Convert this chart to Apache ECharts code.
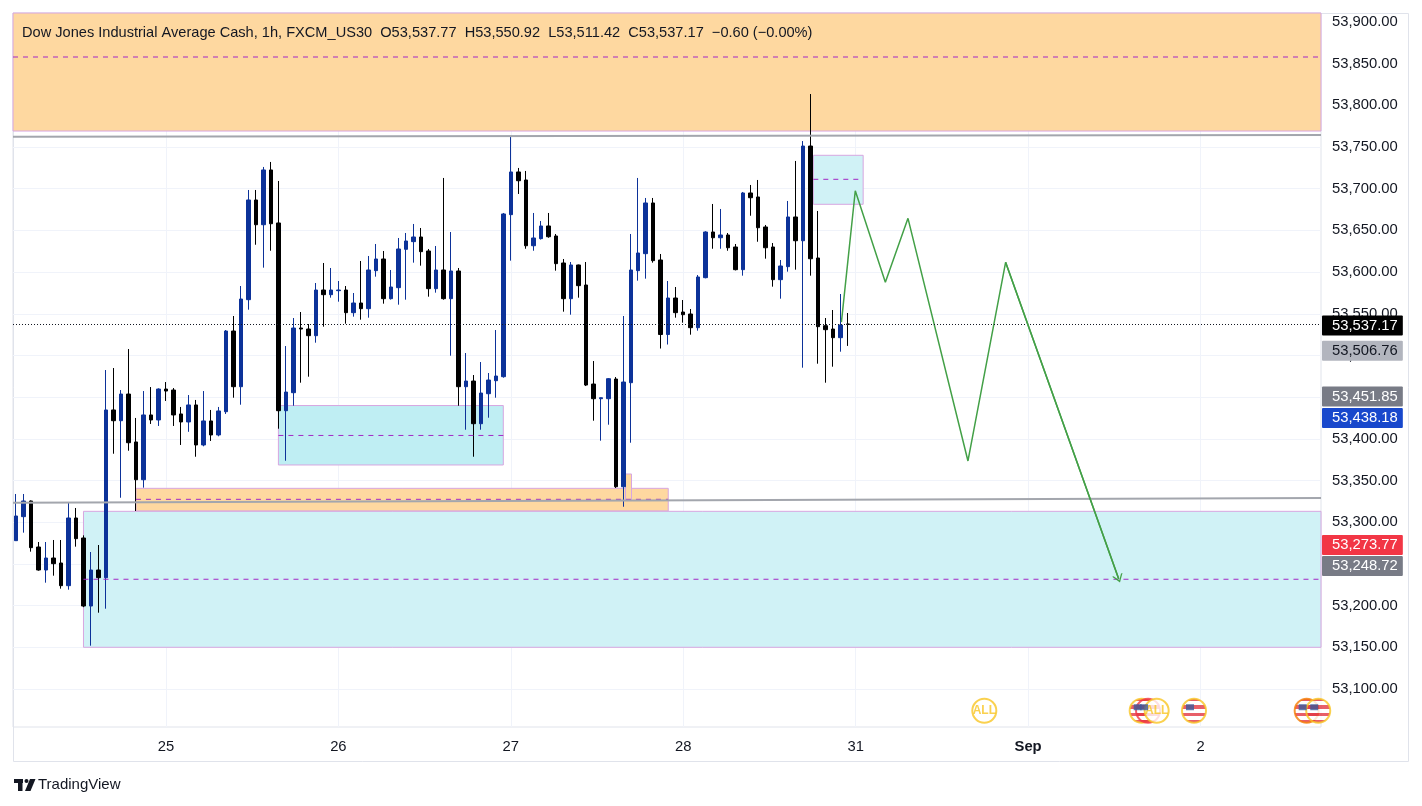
<!DOCTYPE html>
<html>
<head>
<meta charset="UTF-8">
<title>US30 1h</title>
<style>
  html, body { margin: 0; padding: 0; background: #ffffff; }
  #chart { width: 1422px; height: 806px; }
</style>
</head>
<body>
<div id="chart"></div>
<script src="https://cdn.jsdelivr.net/npm/echarts@6.0.0/dist/echarts.min.js"></script>
<script>
// one x slot per hourly bar (index), empty slots on the right are future time
var xMin = -0.4;
var xMax = 174.07;
var dayTickIdx = [20, 43, 66, 89, 112, 135, 158];
var dayLabels = ['25', '26', '27', '28', '31', 'Sep', '2'];
var priceTicks = [53100, 53150, 53200, 53250, 53300, 53350, 53400, 53450, 53500,
  53550, 53600, 53650, 53700, 53750, 53800, 53850, 53900];

// [open, close, low, high] per bar
var candles = [
  [53277.8, 53307.4, 53277.8, 53333.8], [53306.6, 53325.4, 53287.4, 53333.8],
  [53325.4, 53269.4, 53264.6, 53326.0], [53270.2, 53242.6, 53241.8, 53276.2],
  [53242.6, 53257.0, 53227.4, 53276.2], [53257.0, 53250.2, 53235.8, 53278.6],
  [53251.0, 53223.8, 53220.2, 53278.6], [53223.8, 53305.0, 53219.0, 53324.2],
  [53305.0, 53280.2, 53270.6, 53317.0], [53281.0, 53199.4, 53198.0, 53284.2],
  [53199.4, 53242.6, 53151.8, 53264.2], [53242.6, 53233.4, 53191.4, 53272.6],
  [53233.4, 53434.6, 53196.2, 53482.5], [53434.6, 53421.7, 53382.1, 53484.9],
  [53421.7, 53453.7, 53329.3, 53458.5], [53453.7, 53395.3, 53385.7, 53507.7],
  [53396.2, 53350.9, 53313.4, 53425.0], [53350.9, 53428.6, 53341.4, 53457.3],
  [53428.6, 53422.6, 53417.8, 53462.1], [53422.6, 53459.7, 53415.4, 53460.5],
  [53459.7, 53457.3, 53445.4, 53468.1], [53458.5, 53428.6, 53415.4, 53460.9],
  [53429.8, 53420.2, 53392.6, 53438.2], [53420.2, 53440.6, 53408.4, 53452.5],
  [53440.6, 53392.6, 53378.5, 53446.6], [53392.6, 53421.4, 53391.0, 53457.3],
  [53421.4, 53404.6, 53397.4, 53434.6], [53404.6, 53433.4, 53403.0, 53438.2],
  [53432.5, 53529.3, 53429.8, 53530.5], [53529.3, 53462.5, 53449.3, 53547.3],
  [53462.5, 53567.7, 53440.9, 53583.3], [53566.9, 53686.5, 53554.9, 53698.5],
  [53686.5, 53656.8, 53632.8, 53698.5], [53656.8, 53722.5, 53605.3, 53726.1],
  [53722.5, 53658.0, 53625.6, 53732.1], [53658.9, 53433.7, 53412.1, 53709.3],
  [53433.7, 53456.1, 53373.7, 53511.3], [53455.3, 53532.9, 53439.7, 53544.9],
  [53532.9, 53531.7, 53467.3, 53552.1], [53531.7, 53523.7, 53474.5, 53537.7],
  [53523.7, 53578.5, 53515.3, 53586.9], [53578.5, 53572.9, 53534.5, 53610.9],
  [53572.9, 53578.5, 53569.3, 53604.9], [53577.7, 53578.5, 53564.5, 53589.3],
  [53578.5, 53551.3, 53538.1, 53583.3], [53551.3, 53562.9, 53546.5, 53574.9],
  [53562.9, 53556.1, 53542.9, 53613.3], [53556.1, 53602.5, 53545.3, 53619.3],
  [53601.7, 53615.7, 53594.5, 53633.7], [53615.7, 53568.1, 53562.1, 53625.3],
  [53568.1, 53582.1, 53567.0, 53602.5], [53581.3, 53627.7, 53560.9, 53640.9],
  [53627.3, 53637.3, 53566.9, 53646.9], [53636.5, 53642.1, 53611.3, 53657.7],
  [53642.1, 53624.5, 53607.7, 53652.9], [53625.3, 53580.1, 53570.5, 53627.7],
  [53580.1, 53602.5, 53575.3, 53631.3], [53602.5, 53568.1, 53566.9, 53712.9],
  [53568.1, 53601.3, 53499.7, 53648.1], [53601.3, 53462.5, 53439.7, 53604.9],
  [53462.5, 53469.3, 53410.9, 53502.9], [53469.3, 53418.1, 53378.5, 53476.5],
  [53418.1, 53454.9, 53410.9, 53492.1], [53454.1, 53470.5, 53425.3, 53478.9],
  [53469.7, 53475.3, 53449.3, 53530.5], [53474.5, 53669.7, 53473.3, 53670.9],
  [53668.9, 53720.1, 53613.7, 53762.0], [53720.1, 53709.6, 53693.7, 53724.9],
  [53710.5, 53631.6, 53628.0, 53721.3], [53631.6, 53640.9, 53625.6, 53670.9],
  [53640.1, 53655.3, 53639.0, 53661.3], [53655.3, 53642.4, 53641.2, 53670.9],
  [53643.3, 53610.1, 53601.7, 53645.7], [53610.9, 53568.1, 53552.5, 53615.7],
  [53568.1, 53608.5, 53548.9, 53612.1], [53608.5, 53583.7, 53569.3, 53609.0],
  [53584.5, 53464.5, 53463.3, 53612.1], [53465.7, 53448.1, 53421.7, 53493.3],
  [53448.1, 53449.3, 53397.7, 53449.5], [53448.1, 53472.1, 53416.9, 53472.9],
  [53471.7, 53342.5, 53341.0, 53474.1], [53342.5, 53468.1, 53318.5, 53547.3],
  [53467.3, 53602.5, 53395.3, 53645.7], [53601.7, 53622.9, 53589.7, 53712.9],
  [53622.1, 53682.9, 53592.1, 53688.9], [53682.9, 53613.7, 53611.3, 53688.9],
  [53614.5, 53525.1, 53508.3, 53621.7], [53525.1, 53568.9, 53513.1, 53589.3],
  [53568.9, 53551.3, 53545.3, 53582.1], [53552.1, 53548.9, 53539.3, 53566.5],
  [53549.7, 53533.3, 53524.9, 53555.7], [53533.3, 53594.1, 53529.7, 53596.5],
  [53593.3, 53648.1, 53592.5, 53649.0], [53648.1, 53641.2, 53628.0, 53681.7],
  [53641.2, 53644.5, 53628.0, 53675.7], [53644.5, 53629.2, 53625.6, 53646.9],
  [53630.1, 53602.9, 53602.0, 53633.7], [53602.9, 53694.9, 53595.7, 53696.1],
  [53694.9, 53689.2, 53667.6, 53704.5], [53690.1, 53653.2, 53636.4, 53710.5],
  [53654.1, 53629.2, 53616.1, 53656.5], [53630.1, 53590.9, 53582.5, 53634.9],
  [53590.9, 53607.3, 53568.1, 53614.5], [53606.5, 53666.1, 53600.5, 53685.3],
  [53666.1, 53637.6, 53602.9, 53733.3], [53637.6, 53751.2, 53485.3, 53757.2],
  [53751.2, 53616.0, 53595.7, 53813.6], [53616.9, 53534.5, 53490.1, 53673.3],
  [53535.7, 53530.9, 53467.3, 53544.9], [53531.7, 53521.3, 53486.5, 53554.5],
  [53521.3, 53536.5, 53504.5, 53573.7], [53537.77, 53537.17, 53511.42, 53550.92]
];

// drawn zones: [fromIdx, toIdx, lowPrice, highPrice]
var orangeZones = [
  [xMin, xMax, 53769.2, 53946.8],
  [16, 87, 53313.4, 53340.6],
  [81.3, 82.1, 53326.6, 53357.8]
];
var cyanZones = [
  [9, xMax, 53149.9, 53313.0],
  [35, 65, 53368.6, 53439.9],
  [106.35, 113, 53681.3, 53740.1]
];
// zone middle lines: [fromIdx, toIdx, price]
var midLines = [
  [xMin, xMax, 53858.0],
  [16, 87, 53327.4],
  [9, xMax, 53231.5],
  [35, 65, 53404.0],
  [106.35, 113, 53711.3]
];
// trend lines: [idx1, price1, idx2, price2]
var trendLines = [
  [xMin, 53762.4, xMax, 53764.4],
  [xMin, 53323.3, xMax, 53329.0]
];
// projected path
var pathPts = [
  [110.1, 53540.0], [111.95, 53697.6], [115.96, 53587.7], [118.98, 53664.5],
  [126.98, 53373.4], [132.0, 53611.7], [147.08, 53232.2]
];
var lastPrice = 53537.17;
var badgePrices = [53506.76, 53451.85, 53438.18, 53273.77, 53248.72];
// calendar events: [idx, kind, importance]
var events = [
  [129.16, 'ALL', 1], [150.15, 'US', 1], [151.0, 'US', 3], [152.15, 'ALL', 1],
  [157.13, 'US', 1], [172.16, 'US', 2], [173.7, 'US', 1]
];
var eventPrice = 53073.8;

var FONT = '"Liberation Sans", Arial, sans-serif';
var TXT = '#131722';
var AXIS_FS = 14.8;

function fmt(v) {
  var p = v.toFixed(2).split('.');
  return p[0].replace(/\B(?=(\d{3})+(?!\d))/g, ',') + '.' + p[1];
}

var candleData = candles.map(function (c, i) {
  return [i, c[0], c[1], c[2], c[3]];
});

var areas = [];
orangeZones.forEach(function (z) {
  areas.push([{ coord: [z[0], z[3]], itemStyle: { color: '#fed8a0', borderColor: '#d7a6e0', borderWidth: 1 } },
    { coord: [z[1], z[2]] }]);
});
cyanZones.forEach(function (z, i) {
  areas.push([{ coord: [z[0], z[3]], itemStyle: { color: i === 1 ? '#bfeef3' : '#d0f2f6', borderColor: '#d7a6e0', borderWidth: 1 } },
    { coord: [z[1], z[2]] }]);
});

// straight drawing segments as plain line series
function segSeries(pts, color, width, dash, z) {
  return {
    type: 'line', data: pts, showSymbol: false, silent: true, z: z,
    color: color, lineStyle: { color: color, width: width, type: dash }
  };
}
var drawSeries = [];
midLines.forEach(function (m) {
  drawSeries.push(segSeries([[m[0], m[2]], [m[1], m[2]]], '#a229c4', 1, [5, 5], 3));
});
trendLines.forEach(function (t) {
  drawSeries.push(segSeries([[t[0], t[1]], [t[2], t[3]]], '#a3a6ad', 2, 'solid', 3));
});

var badgeLook = [
  { bg: '#b2b5be', fg: TXT, dy: 1 },
  { bg: '#787b86', fg: '#ffffff', dy: 1 },
  { bg: '#1848cc', fg: '#ffffff', dy: 11 },
  { bg: '#f23645', fg: '#ffffff', dy: 1 },
  { bg: '#787b86', fg: '#ffffff', dy: 1 }
];
function badgeLabel(bg, fg, dy) {
  return {
    show: true, position: 'end', distance: 1, formatter: function (p) { return fmt(p.value); },
    backgroundColor: bg, color: fg, fontFamily: FONT, fontSize: AXIS_FS, lineHeight: 15,
    padding: [3, 5, 2, 10], borderRadius: 1, offset: [0, dy]
  };
}
var lines = [];
lines.push({ yAxis: lastPrice, lineStyle: { color: '#131722', width: 1, type: [1, 2] },
  label: badgeLabel('#000000', '#ffffff', 1) });
badgePrices.forEach(function (v, i) {
  var b = badgeLook[i];
  lines.push({ yAxis: v, lineStyle: { color: 'rgba(0,0,0,0)', width: 0 }, label: badgeLabel(b.bg, b.fg, b.dy) });
});

var stripeStops = [];
for (var s = 0; s < 7; s++) {
  var col = s % 2 === 0 ? '#e23743' : '#ffffff';
  stripeStops.push({ offset: s / 7, color: col }, { offset: (s + 1) / 7, color: col });
}
var ringColors = { 1: '#f9c623', 2: '#f57c00', 3: '#f23645' };
var eventData = events.map(function (e) {
  var isAll = e[1] === 'ALL';
  return {
    value: [e[0], eventPrice],
    itemStyle: {
      color: isAll ? '#ffffff' : new echarts.graphic.LinearGradient(0, 0, 0, 1, stripeStops),
      borderColor: ringColors[e[2]], borderWidth: 2
    },
    label: { show: isAll, formatter: 'ALL', color: '#f9c623', fontWeight: 'bold', fontSize: 12, fontFamily: FONT }
  };
});
var cantonData = events.filter(function (e) { return e[1] !== 'ALL'; }).map(function (e) {
  return [e[0], eventPrice];
});

var titleText = 'Dow Jones Industrial Average Cash, 1h, FXCM_US30  O53,537.77  H53,550.92  L53,511.42  C53,537.17  \u22120.60 (\u22120.00%)';

var chart = echarts.init(document.getElementById('chart'));
chart.setOption({
  animation: false,
  backgroundColor: '#ffffff',
  textStyle: { fontFamily: FONT },
  grid: {
    left: 13, top: 13, right: 101, bottom: 79,
    show: true, borderColor: '#e0e3eb', borderWidth: 1, containLabel: false, outerBoundsMode: 'none'
  },
  xAxis: {
    type: 'value', min: xMin, max: xMax,
    axisLine: { show: false },
    axisTick: { show: false, customValues: dayTickIdx },
    axisLabel: {
      customValues: dayTickIdx, margin: 12, color: TXT, fontSize: AXIS_FS, fontFamily: FONT,
      formatter: function (v) {
        var k = dayTickIdx.indexOf(Math.round(v));
        var t = k < 0 ? '' : dayLabels[k];
        return t === 'Sep' ? '{b|Sep}' : t;
      },
      rich: { b: { fontWeight: 'bold', fontSize: AXIS_FS, color: TXT, fontFamily: FONT } }
    },
    splitLine: { show: true, lineStyle: { color: '#f0f3fa', width: 1 } }
  },
  yAxis: {
    type: 'value', position: 'right', scale: true,
    min: 53054.27, max: 53910.8,
    axisLine: { show: false },
    axisTick: { show: false, customValues: priceTicks },
    axisLabel: { customValues: priceTicks, margin: 11, color: TXT, fontSize: AXIS_FS, fontFamily: FONT, formatter: fmt },
    splitLine: { show: true, lineStyle: { color: '#f0f3fa', width: 1 } }
  },
  graphic: [
    { type: 'rect', shape: { x: 13.5, y: 13.5, width: 1395, height: 748 }, style: { fill: 'none', stroke: '#e0e3eb', lineWidth: 1 }, z: -1 },
    { type: 'text', x: 22, y: 33, style: { text: titleText, fill: TXT, font: '14.6px ' + FONT, textVerticalAlign: 'middle' }, z: 10 },
    { type: 'rect', shape: { x: 14, y: 779, width: 9, height: 4 }, style: { fill: '#131722' } },
    { type: 'rect', shape: { x: 18, y: 779, width: 4.5, height: 12 }, style: { fill: '#131722' } },
    { type: 'circle', shape: { cx: 26.5, cy: 781, r: 2 }, style: { fill: '#131722' } },
    { type: 'polygon', shape: { points: [[30, 779], [35.5, 779], [30.5, 791], [25, 791]] }, style: { fill: '#131722' } },
    { type: 'text', x: 38, y: 785, style: { text: 'TradingView', fill: TXT, font: '15px ' + FONT, textVerticalAlign: 'middle' } }
  ],
  series: [
    {
      type: 'candlestick',
      data: candleData,
      barWidth: 4,
      itemStyle: { color: '#0c3299', color0: '#000000', borderColor: '#0c3299', borderColor0: '#000000', borderWidth: 1 },
      markArea: { silent: true, data: areas },
      markLine: { silent: true, symbol: 'none', label: { show: false }, data: lines }
    },
    {
      type: 'line',
      data: pathPts,
      showSymbol: false,
      z: 4,
      color: '#43a047',
      lineStyle: { color: '#43a047', width: 1.5 },
      markLine: {
        silent: true,
        symbol: ['none', 'path://M0,10 L5,0 L10,10 L8.6,10 L5,2.8 L1.4,10 Z'],
        symbolSize: [11, 8],
        label: { show: false },
        lineStyle: { color: '#43a047', width: 1.5, type: 'solid' },
        data: [[{ coord: pathPts[pathPts.length - 2] }, { coord: pathPts[pathPts.length - 1] }]]
      }
    },
    {
      type: 'scatter',
      data: eventData,
      symbol: 'circle',
      symbolSize: 24,
      z: 4,
      silent: true
    },
    {
      type: 'scatter',
      data: cantonData,
      symbol: 'rect',
      symbolSize: [8, 6],
      symbolOffset: [-4, -3.5],
      itemStyle: { color: '#3c5a9a' },
      z: 5,
      silent: true
    }
  ].concat(drawSeries)
});
</script>
</body>
</html>
